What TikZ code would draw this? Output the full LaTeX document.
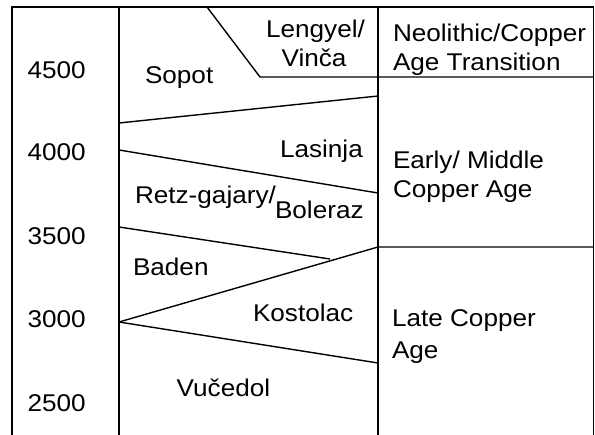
\documentclass[tikz,border=0pt]{standalone}
\usepackage{fontspec}
\setmainfont{Liberation Sans}[FakeStretch=1.08]
\begin{document}
\begin{tikzpicture}[x=1bp,y=-1bp,
  rule/.style={line width=1.4bp, black},
  lbl/.style={font=\fontsize{24.2bp}{29.5bp}\selectfont, inner sep=0pt, outer sep=0pt},
  lw/.style={lbl, anchor=base west},
  lc/.style={lbl, anchor=base}]
\useasboundingbox (0,0) rectangle (595,435);
% frame coordinates
\coordinate (tl) at (12,7);
\coordinate (bl) at (12,435);
\coordinate (c1t) at (119,7);
\coordinate (c1b) at (119,435);
\coordinate (c2t) at (378,7);
\coordinate (c2b) at (378,435);
\coordinate (tr) at (593.5,7);
\coordinate (br) at (593.5,435);
\coordinate (lgA) at (207,7);
\coordinate (lgB) at (260,77);
\coordinate (lgR) at (593.5,77);
\coordinate (s1L) at (119,123);
\coordinate (s1R) at (378,96);
\coordinate (s2L) at (119,150);
\coordinate (s2R) at (378,193);
\coordinate (s3L) at (119,227);
\coordinate (s3R) at (330,259);
\coordinate (s4L) at (119,322);
\coordinate (s4R) at (378,247);
\coordinate (s4E) at (593.5,247);
\coordinate (s5R) at (378,363);
% frame
\draw[rule] (bl) -- (tl) -- (tr) -- (br);
\draw[rule] (c1t) -- (c1b);
\draw[rule] (c2t) -- (c2b);
% boundaries
\draw[rule] (lgA) -- (lgB) -- (lgR);
\draw[rule] (s1L) -- (s1R);
\draw[rule] (s2L) -- (s2R);
\draw[rule] (s3L) -- (s3R);
\draw[rule] (s4L) -- (s4R) -- (s4E);
\draw[rule] (s4L) -- (s5R);
% years
\node[lc] (y4500) at (56.7,79) {4500};
\node[lc] (y4000) at (56.7,161) {4000};
\node[lc] (y3500) at (56.7,245) {3500};
\node[lc] (y3000) at (56.7,327.7) {3000};
\node[lc] (y2500) at (56.7,411) {2500};
% cultures
\node[lw] (sopot) at (145,83.3) {Sopot};
\node[lc] (lengyel) at (315.5,37.5) {Lengyel/};
\node[lc] (vinca) at (314,67) {Vinča};
\node[lw] (lasinja) at (280,158) {Lasinja};
\node[lw] (retz) at (135,203.3) {Retz-gajary/};
\node[lw] (boleraz) at (275,218.3) {Boleraz};
\node[lw] (baden) at (133,276) {Baden};
\node[lw] (kostolac) at (253,321) {Kostolac};
\node[lw] (vucedol) at (176.7,396) {Vučedol};
% periods
\node[lw] (neo1) at (393,41.7) {Neolithic/Copper};
\node[lw] (neo2) at (393,71) {Age Transition};
\node[lw] (early1) at (393,168.3) {Early/ Middle};
\node[lw] (early2) at (393,198) {Copper Age};
\node[lw] (late1) at (392,326.7) {Late Copper};
\node[lw] (late2) at (392,358) {Age};
\end{tikzpicture}
\end{document}
